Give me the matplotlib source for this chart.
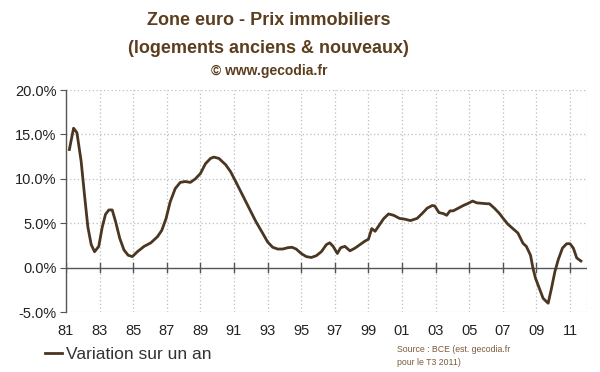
import matplotlib.pyplot as plt
import matplotlib.transforms as mtransforms

# Annual change of euro area house prices (%)
years = [1981.2, 1981.45, 1981.65, 1981.9, 1982.1, 1982.3, 1982.5, 1982.7, 1982.95,
         1983.15, 1983.35, 1983.55, 1983.75, 1983.95, 1984.2, 1984.45, 1984.7, 1984.95,
         1985.25, 1985.65, 1986.05, 1986.45, 1986.7, 1986.95, 1987.2, 1987.5, 1987.8,
         1988.1, 1988.4, 1988.7, 1989.0, 1989.3, 1989.6, 1989.8, 1990.1, 1990.5, 1990.8,
         1991.1, 1991.5, 1991.9, 1992.3, 1992.7, 1993.0, 1993.3, 1993.6, 1993.9, 1994.2,
         1994.45, 1994.7, 1995.0, 1995.3, 1995.6, 1995.9, 1996.2, 1996.5, 1996.7, 1996.9,
         1997.15, 1997.35, 1997.6, 1997.9, 1998.2, 1998.5, 1998.8, 1999.0, 1999.2, 1999.4,
         1999.65, 1999.9, 2000.2, 2000.5, 2000.85, 2001.2, 2001.5, 2001.9, 2002.2, 2002.5,
         2002.8, 2002.95, 2003.2, 2003.45, 2003.66, 2003.86, 2004.05, 2004.35, 2004.65,
         2004.95, 2005.2, 2005.45, 2005.75, 2006.05, 2006.2, 2006.5, 2006.8, 2007.0, 2007.3,
         2007.6, 2007.9, 2008.2, 2008.4, 2008.65, 2008.8, 2008.95, 2009.17, 2009.4, 2009.7,
         2009.9, 2010.1, 2010.3, 2010.55, 2010.8, 2011.0, 2011.2, 2011.4, 2011.65]
values = [13.3, 15.7, 15.2, 12.0, 8.2, 4.6, 2.6, 1.8, 2.4,
          4.5, 6.0, 6.5, 6.5, 5.2, 3.3, 2.0, 1.4, 1.25,
          1.8, 2.4, 2.8, 3.5, 4.2, 5.5, 7.4, 8.9, 9.6,
          9.7, 9.6, 10.0, 10.6, 11.7, 12.3, 12.45, 12.3, 11.6, 10.8,
          9.7, 8.2, 6.7, 5.2, 3.9, 2.9, 2.3, 2.1, 2.1, 2.25,
          2.3, 2.1, 1.6, 1.25, 1.15, 1.35, 1.8, 2.6, 2.8, 2.4,
          1.6, 2.25, 2.4, 1.9, 2.2, 2.6, 3.0, 3.2, 4.4, 4.1,
          4.8, 5.5, 6.05, 5.9, 5.55, 5.45, 5.3, 5.55, 6.1, 6.7,
          7.0, 6.95, 6.2, 6.1, 5.9, 6.4, 6.4, 6.7, 7.0,
          7.25, 7.5, 7.3, 7.25, 7.2, 7.2, 6.7, 6.1, 5.6, 4.9,
          4.4, 3.9, 2.75, 2.4, 1.4, -0.1, -1.2, -2.3, -3.45, -4.0,
          -2.3, -0.45, 0.9, 2.2, 2.7, 2.7, 2.2, 1.1, 0.75]

tick_years = list(range(1981, 2012, 2))
tick_labels = [f"{y % 100:02d}" for y in tick_years]
y_ticks = [-5, 0, 5, 10, 15, 20]

plt.rcParams['font.family'] = ['Liberation Sans', 'DejaVu Sans']

brown_title = '#5C3D1E'
brown_line = '#4A3621'
grid_col = '#BDBDBD'

fig = plt.figure(figsize=(6, 3.72), dpi=100)
ax = fig.add_axes([0.11, 0.161, 0.868, 0.597])

ax.plot(years, values, color=brown_line, linewidth=2, label='Variation sur un an')

ax.set_xlim(1981, 2012)
ax.set_ylim(-5, 20)

# dotted grid
for y in y_ticks:
    if y != 0:
        ax.axhline(y, color=grid_col, linestyle=(0, (1, 2)), linewidth=0.9, zorder=0)
for x in tick_years[1:]:
    ax.axvline(x, color=grid_col, linestyle=(0, (1, 2)), linewidth=0.9, zorder=0)
ax.axvline(2012, color=grid_col, linestyle=(0, (1, 2)), linewidth=0.9, zorder=0)

for side in ['top', 'right', 'bottom']:
    ax.spines[side].set_visible(False)
ax.spines['left'].set_color('#555555')
ax.spines['left'].set_linewidth(1)

# zero line acting as x axis, labels sit below the plot
ax.axhline(0, color='#555555', linewidth=1, zorder=1)
ax.set_xticks([])
trans = mtransforms.blended_transform_factory(ax.transData, ax.transAxes)
for x, lab in zip(tick_years, tick_labels):
    ax.plot([x, x], [-0.5, 0.5], color='#555555', linewidth=1, zorder=1)
    ax.text(x, -0.083, lab, transform=trans, ha='center', va='center',
            fontsize=10.5, color='#222222')

ax.set_yticks(y_ticks)
ax.set_yticklabels([f"{v:.1f}%" for v in y_ticks], fontsize=10.5, color='#222222')
ax.tick_params(axis='y', direction='out', length=4, color='#555555', pad=3)

# title block
fig.text(0.448, 0.945, 'Zone euro - Prix immobiliers', ha='center', va='center',
         fontsize=13, fontweight='bold', color=brown_title)
fig.text(0.448, 0.87, '(logements anciens & nouveaux)', ha='center', va='center',
         fontsize=13, fontweight='bold', color=brown_title)
fig.text(0.448, 0.81, '\u00a9 www.gecodia.fr', ha='center', va='center',
         fontsize=10, fontweight='bold', color=brown_title)

# legend
fig.legend(loc='center left', bbox_to_anchor=(0.063, 0.047), frameon=False,
           fontsize=12.5, handlelength=1.0, handletextpad=0.2,
           labelcolor='#333333', borderaxespad=0)

fig.text(0.662, 0.043, 'Source : BCE (est. gecodia.fr\npour le T3 2011)', ha='left',
         va='center', fontsize=6.3, color='#7B5B3B', linespacing=1.55)

fig.savefig('out.png', dpi=100)
